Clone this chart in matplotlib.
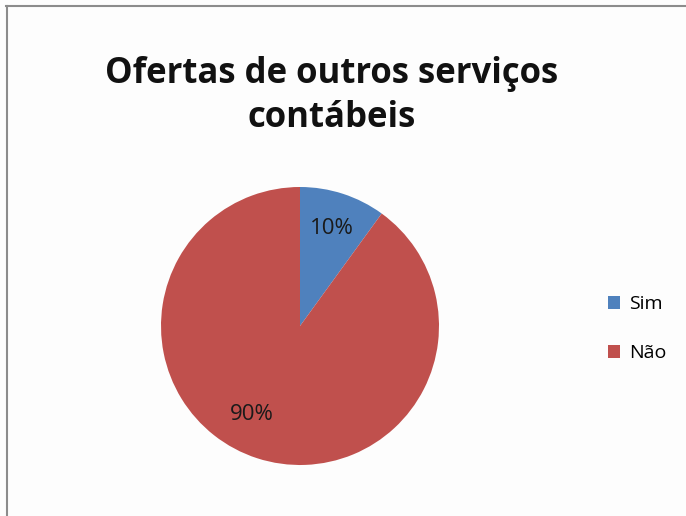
import matplotlib.pyplot as plt
from matplotlib.lines import Line2D

labels = ["Sim", "Não"]
values = [10, 90]
colors = ["#4F81BD", "#C0504D"]
title = "Ofertas de outros serviços\ncontábeis"

plt.rcParams['font.family'] = ['Open Sans', 'DejaVu Sans']

fig = plt.figure(figsize=(6.86, 5.16), dpi=100)
fig.patch.set_facecolor("#FDFDFD")

# frame (only top and left edges are visible in the original crop)
fig.add_artist(Line2D([6 / 686, 1], [1 - 6 / 516, 1 - 6 / 516], color="#8C8C8C", lw=1.5, transform=fig.transFigure))
fig.add_artist(Line2D([7 / 686, 7 / 686], [0, 1 - 6 / 516], color="#8C8C8C", lw=1.5, transform=fig.transFigure))

ax = fig.add_axes([161 / 686, 51 / 516, 278 / 686, 278 / 516])
wedges, texts, autotexts = ax.pie(values, colors=colors, startangle=90, counterclock=False,
                                  autopct='%1.0f%%', pctdistance=0.74,
                                  textprops={'fontsize': 16, 'color': '#1A1A1A'})
# Excel "best fit" puts the big label a bit further left
autotexts[1].set_position((-0.345, -0.635))
ax.set_xlim(-1, 1)
ax.set_ylim(-1, 1)
ax.set_aspect('equal')

fig.text(332 / 686, 1 - 96 / 516, title, ha='center', va='center',
         fontsize=25, fontweight='bold', linespacing=1.3, color='#111111')

ax.legend(wedges, labels, loc='center left', bbox_to_anchor=(1.545, 0.49),
          frameon=False, fontsize=14, handlelength=0.6, handleheight=0.6,
          labelspacing=1.6, handletextpad=0.5)

fig.savefig("out.png", dpi=100, facecolor=fig.get_facecolor())
